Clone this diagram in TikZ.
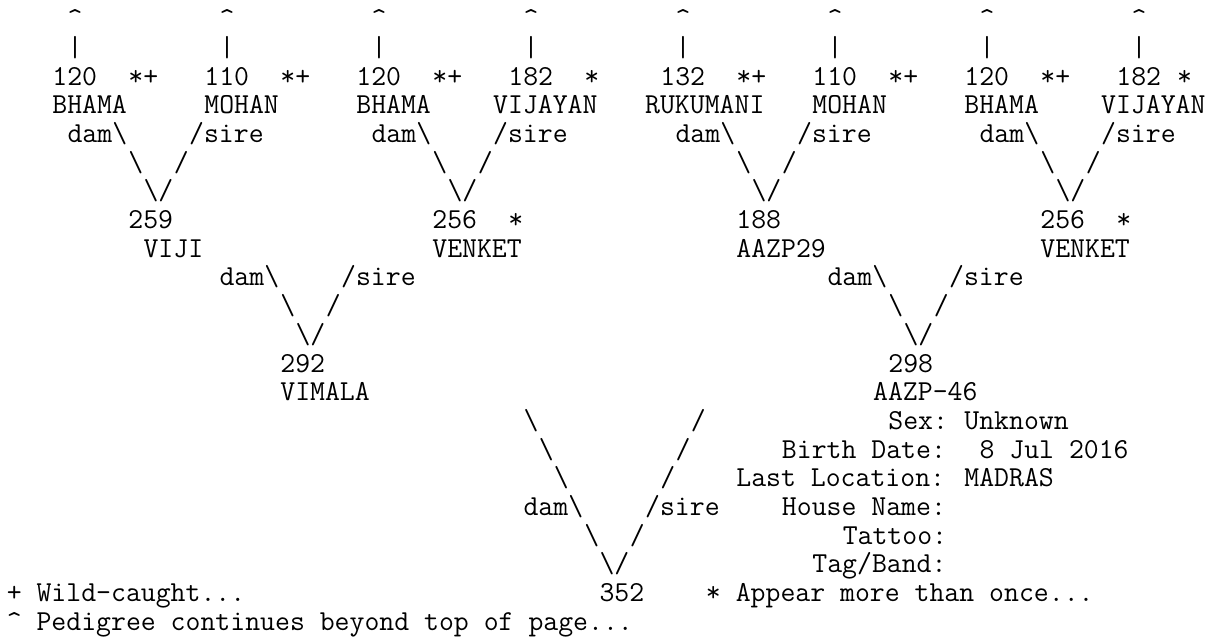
\documentclass[tikz,border=0pt]{standalone}
\usepackage{fontspec}
\usepackage{tikz}
\frenchspacing

\begin{document}
\begin{tikzpicture}[
        x=11.4pt, y=-21.525pt,
        tx/.style={font=\ttfamily\fontsize{21.71}{21.71}\selectfont, inner sep=0pt,
                   anchor=base west, text=black}
      ]
        \fill[white] (-0.4276,0.0383) rectangle (79.7039,22.303);
        \useasboundingbox (-0.4276,0.0383) rectangle (79.7039,22.303);
        % great-grandparents
        \foreach \k/\id/\nm/\nc in {0/120/BHAMA/3, 1/110/MOHAN/13, 2/120/BHAMA/23,
                 3/182/VIJAYAN/32, 4/132/RUKUMANI/42, 5/110/MOHAN/53,
                 6/120/BHAMA/63, 7/182/VIJAYAN/72} {
          \node[tx] (up\k)  at ({4+10*\k},1) {\textasciicircum};
          \node[tx] (bar\k) at ({4+10*\k},2) {|};
          \node[tx] (id\k)  at ({3+10*\k},3) {\id};
          \node[tx] (nm\k)  at (\nc,4) {\nm};
        }
        \foreach \k/\fl/\fc in {0/*+/8, 1/*+/18, 2/*+/28, 3/*/38, 4/*+/48,
                 5/*+/58, 6/*+/68, 7/*/77}
          \node[tx] (fl\k) at (\fc,3) {\fl};
        \foreach \k in {0,...,3} {
          \node[tx] (dm\k) at ({4+20*\k},5) {dam\textbackslash};
          \node[tx] (sr\k) at ({12+20*\k},5) {/sire};
          \node[tx] (bs\k) at ({8+20*\k},6) {\textbackslash};
          \node[tx] (fs\k) at ({11+20*\k},6) {/};
          \node[tx] (vv\k) at ({9+20*\k},7) {\textbackslash/};
        }
        % grandparents
        \node[tx] (g0) at (8,8) {259};
        \node[tx] (g1) at (28,8) {256};
        \node[tx] (g1s) at (33,8) {*};
        \node[tx] (g2) at (48,8) {188};
        \node[tx] (g3) at (68,8) {256};
        \node[tx] (g3s) at (73,8) {*};
        \node[tx] (gn0) at (9,9) {VIJI};
        \node[tx] (gn1) at (28,9) {VENKET};
        \node[tx] (gn2) at (48,9) {AAZP29};
        \node[tx] (gn3) at (68,9) {VENKET};
        \foreach \k in {0,1} {
          \node[tx] (gdm\k) at ({14+40*\k},10) {dam\textbackslash};
          \node[tx] (gsr\k) at ({22+40*\k},10) {/sire};
          \node[tx] (gbs\k) at ({18+40*\k},11) {\textbackslash};
          \node[tx] (gfs\k) at ({21+40*\k},11) {/};
          \node[tx] (gvv\k) at ({19+40*\k},12) {\textbackslash/};
        }
        % parents
        \node[tx] (p0) at (18,13) {292};
        \node[tx] (p1) at (58,13) {298};
        \node[tx] (pn0) at (18,14) {VIMALA};
        \node[tx] (pn1) at (57,14) {AAZP-46};
        \foreach \r in {0,1,2} {
          \node[tx] (pbs\r) at ({34+\r},{15+\r}) {\textbackslash};
          \node[tx] (pfs\r) at ({45-\r},{15+\r}) {/};
        }
        \node[tx] (pdm) at (34,18) {dam\textbackslash};
        \node[tx] (psr) at (42,18) {/sire};
        \node[tx] (pbs) at (38,19) {\textbackslash};
        \node[tx] (pfs) at (41,19) {/};
        \node[tx] (pvv) at (39,20) {\textbackslash/};
        % subject
        \node[tx] (me) at (39,21) {352};
        \node[tx] (sex)  at (58,15) {Sex:};
        \node[tx] (sexv) at (63,15) {Unknown};
        \node[tx] (bd)   at (51,16) {Birth Date:};
        \node[tx] (bdv)  at (64,16) {8 Jul 2016};
        \node[tx] (loc)  at (48,17) {Last Location:};
        \node[tx] (locv) at (63,17) {MADRAS};
        \node[tx] (hn)   at (51,18) {House Name:};
        \node[tx] (tat)  at (55,19) {Tattoo:};
        \node[tx] (tag)  at (53,20) {Tag/Band:};
        % key
        \node[tx] (k1) at (0,21) {+ Wild-caught...};
        \node[tx] (k2) at (46,21) {* Appear more than once...};
        \node[tx] (k3) at (0,22) {\textasciicircum{} Pedigree continues beyond top of page...};
      \end{tikzpicture}
\end{document}
